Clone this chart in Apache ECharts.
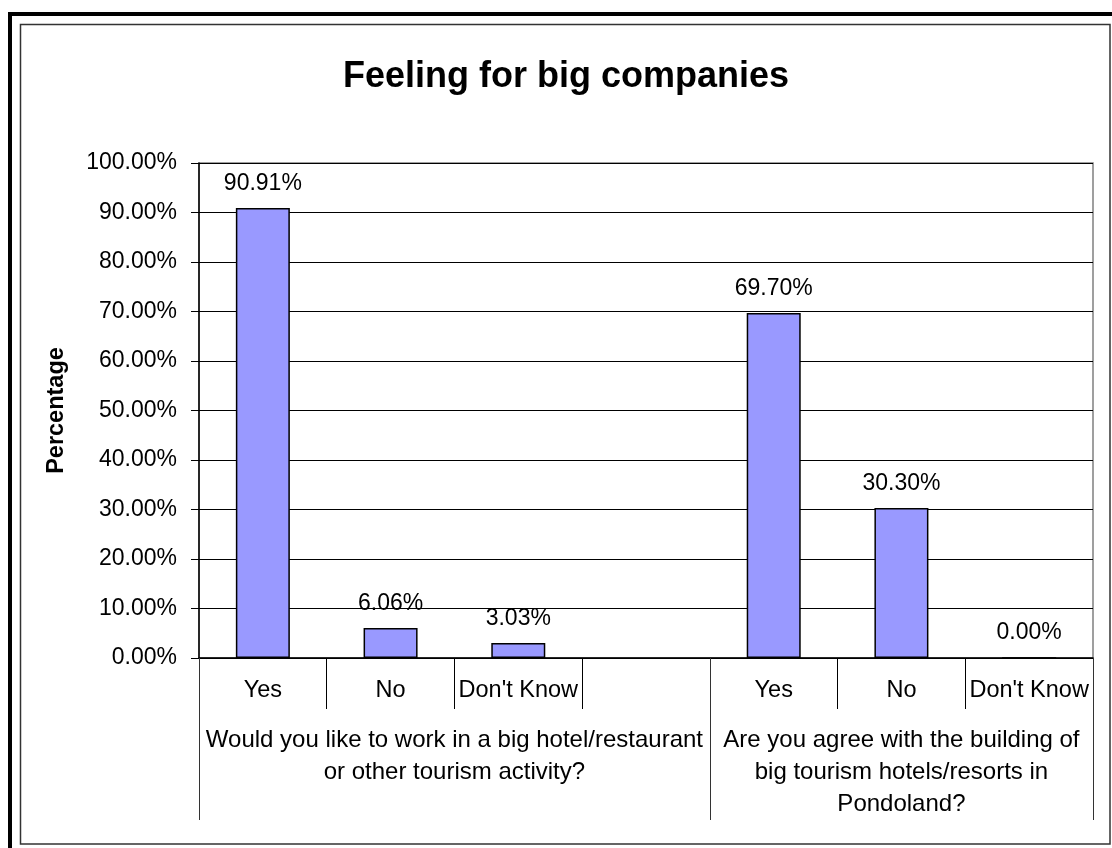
<!DOCTYPE html>
<html>
<head>
<meta charset="utf-8">
<script src="https://cdn.jsdelivr.net/npm/echarts@6/dist/echarts.min.js"></script>
<style>
  html, body { margin: 0; padding: 0; background: #fff; }
  #chart { width: 1112px; height: 848px; }
</style>
</head>
<body>
<div id="chart"></div>
<script>
// Answer categories for each question (blank slot separates the two questions)
const answers = ["Yes", "No", "Don't Know", "", "Yes", "No", "Don't Know"];
// Share of respondents, in percent ('-' = no bar in the spacer slot)
const percentages = [90.91, 6.06, 3.03, '-', 69.70, 30.30, 0.00];
// The two survey questions, with the slot span each one covers
const questions = [
  "Would you like to work in a big hotel/restaurant\nor other tourism activity?",
  "Are you agree with the building of\nbig tourism hotels/resorts in\nPondoland?"
];
const questionSpans = [[0, 4], [4, 7]];
const yTicks = { min: 0, max: 100, step: 10 };

const FONT = '"Liberation Sans", Arial, sans-serif';
const pct = v => Number(v).toFixed(2) + '%';

// Boundaries and centres of the question groups, on a 0..N slot scale
const groupEdges = [0].concat(questionSpans.map(s => s[1]));
const groupCentres = questionSpans.map(s => (s[0] + s[1]) / 2);

const chart = echarts.init(document.getElementById('chart'), null, { renderer: 'canvas' });

chart.setOption({
  backgroundColor: '#fff',
  animation: false,
  textStyle: { fontFamily: FONT },
  title: {
    text: 'Feeling for big companies',
    left: 338,
    top: 54,
    textStyle: { fontFamily: FONT, fontSize: 36, fontWeight: 'bold', color: '#000' }
  },
  grid: {
    left: 199, right: 19, top: 163, bottom: 190,
    show: true, borderColor: '#808080', borderWidth: 1.5, backgroundColor: '#fff'
  },
  xAxis: [
    {
      type: 'category',
      data: answers,
      position: 'bottom',
      axisLine: { show: true, lineStyle: { color: '#000', width: 1.5 } },
      axisTick: { show: true, interval: 0, length: 51, lineStyle: { color: '#000', width: 1 } },
      axisLabel: {
        interval: 0, fontSize: 23.5, lineHeight: 24, margin: 21, color: '#000', fontFamily: FONT
      },
      splitLine: { show: false }
    },
    {
      type: 'value',
      min: 0,
      max: answers.length,
      position: 'bottom',
      axisLine: { show: false },
      splitLine: { show: false },
      axisTick: {
        show: true, length: 162, customValues: groupEdges,
        lineStyle: { color: '#333', width: 1 }
      },
      axisLabel: {
        show: true,
        customValues: groupCentres,
        formatter: v => {
          const i = groupCentres.indexOf(v);
          return i >= 0 ? questions[i] : '';
        },
        fontSize: 24, lineHeight: 32, margin: 66, color: '#000', fontFamily: FONT,
        align: 'center'
      }
    }
  ],
  yAxis: {
    type: 'value',
    min: yTicks.min,
    max: yTicks.max,
    interval: yTicks.step,
    name: 'Percentage',
    nameLocation: 'middle',
    nameRotate: 90,
    nameGap: 130,
    nameTextStyle: { fontFamily: FONT, fontSize: 23.5, fontWeight: 'bold', color: '#000' },
    axisLine: { show: true, lineStyle: { color: '#000', width: 1.5 } },
    axisTick: { show: true, inside: false, length: 8, lineStyle: { color: '#000' } },
    axisLabel: { formatter: pct, fontSize: 23, margin: 22, color: '#000', fontFamily: FONT },
    splitLine: { show: true, lineStyle: { color: '#000', width: 1 } }
  },
  series: [{
    type: 'bar',
    xAxisIndex: 0,
    yAxisIndex: 0,
    data: percentages,
    barWidth: 54,
    itemStyle: { color: '#9999FF', borderColor: '#000', borderWidth: 1.5 },
    label: {
      show: true,
      position: 'top',
      distance: 13,
      formatter: p => pct(p.value),
      fontSize: 23,
      color: '#000',
      fontFamily: FONT
    }
  }],
  graphic: [
    // heavy outer frame
    {
      type: 'rect', silent: true, z: 100,
      shape: { x: 10, y: 14, width: 1112, height: 848 },
      style: { fill: null, stroke: '#000', lineWidth: 4 }
    },
    // thin chart-area frame
    {
      type: 'rect', silent: true, z: 100,
      shape: { x: 20.5, y: 24.5, width: 1089.5, height: 819.5 },
      style: { fill: null, stroke: '#333', lineWidth: 1.5 }
    }
  ]
});
</script>
</body>
</html>
